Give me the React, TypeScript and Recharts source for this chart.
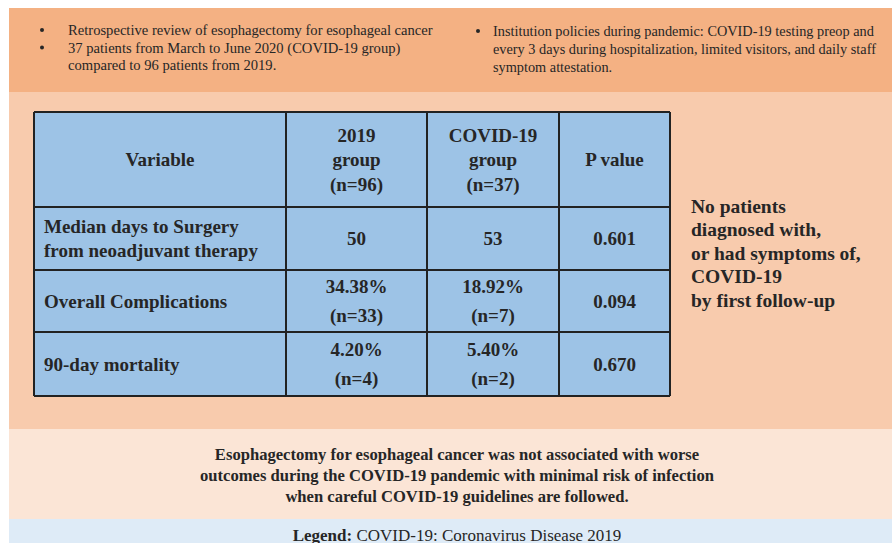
import { Surface, Layer, Rectangle, Text } from "recharts";

// summary bullets, one entry per bullet, one string per printed line
const studyBullets = [
  ["Retrospective review of esophagectomy for esophageal cancer"],
  ["37 patients from March to June 2020 (COVID-19 group)", "compared to 96 patients from 2019."],
];
const policyBullets = [
  [
    "Institution policies during pandemic: COVID-19 testing preop and",
    "every 3 days during hospitalization, limited visitors, and daily staff",
    "symptom attestation.",
  ],
];

const headers = [["Variable"], ["2019", "group", "(n=96)"], ["COVID-19", "group", "(n=37)"], ["P value"]];
const variables = [["Median days to Surgery", "from neoadjuvant therapy"], ["Overall Complications"], ["90-day mortality"]];
const group2019 = [["50"], ["34.38%", "(n=33)"], ["4.20%", "(n=4)"]];
const groupCovid = [["53"], ["18.92%", "(n=7)"], ["5.40%", "(n=2)"]];
const pValues = [["0.601"], ["0.094"], ["0.670"]];

const sideNote = ["No patients", "diagnosed with,", "or had symptoms of,", "COVID-19", "by first follow-up"];
const conclusion = [
  "Esophagectomy for esophageal cancer was not associated with worse",
  "outcomes during the COVID-19 pandemic with minimal risk of infection",
  "when careful COVID-19 guidelines are followed.",
];
const legendLabel = "Legend:";
const legendText = " COVID-19: Coronavirus Disease 2019";

const W = 892;
const H = 543;
const FONT = "'Liberation Serif', 'DejaVu Serif', serif";
const INK = "#262626";

const colX = [34, 286, 427, 559, 670];
const rowY = [112, 207, 270, 332, 396];

function Lines({ lines, x, cy, gap, anchor = "middle", size = 19, bold = true }: any) {
  const top = cy - ((lines.length - 1) * gap) / 2;
  return (
    <Layer>
      {lines.map((t: string, i: number) => (
        <Text
          key={i}
          x={x}
          y={top + i * gap}
          textAnchor={anchor}
          verticalAnchor="middle"
          fontFamily={FONT}
          fontSize={size}
          fontWeight={bold ? 700 : 400}
          fill={INK}
        >
          {t}
        </Text>
      ))}
    </Layer>
  );
}

function Bullets({ items, bx, tx, y0, gap, size }: any) {
  let line = 0;
  return (
    <Layer>
      {items.map((lines: string[], i: number) => {
        const start = line;
        line += lines.length;
        return (
          <Layer key={i}>
            <circle cx={bx} cy={y0 + start * gap} r={2} fill={INK} />
            {lines.map((t, j) => (
              <Text key={j} x={tx} y={y0 + (start + j) * gap} verticalAnchor="middle" fontFamily={FONT} fontSize={size} fill={INK}>
                {t}
              </Text>
            ))}
          </Layer>
        );
      })}
    </Layer>
  );
}

export default function App() {
  const columns = [variables, group2019, groupCovid, pValues];
  return (
    <div style={{ position: "absolute", left: 0, top: 0, width: W, height: H, background: "#fff" }}>
      <Surface width={W} height={H} viewBox={{ x: 0, y: 0, width: W, height: H }}>
        <Rectangle x={9} y={8} width={W - 9} height={84} fill="#f4b183" />
        <Rectangle x={9} y={92} width={W - 9} height={337} fill="#f8cbad" />
        <Rectangle x={9} y={429} width={W - 9} height={90} fill="#fbe5d6" />
        <Rectangle x={9} y={519} width={W - 9} height={H - 519} fill="#deebf7" />

        <Bullets items={studyBullets} bx={42} tx={68} y0={30} gap={17.5} size={14.6} />
        <Bullets items={policyBullets} bx={478} tx={493} y0={31} gap={18} size={14.3} />

        <Rectangle x={colX[0]} y={rowY[0]} width={colX[4] - colX[0]} height={rowY[4] - rowY[0]} fill="#9dc3e6" />
        {colX.map((x, i) => (
          <line key={"c" + i} x1={x} x2={x} y1={rowY[0]} y2={rowY[4]} stroke="#222" strokeWidth={2} />
        ))}
        {rowY.map((y, i) => (
          <line key={"r" + i} x1={colX[0]} x2={colX[4]} y1={y} y2={y} stroke="#222" strokeWidth={2} />
        ))}

        {headers.map((h, c) => (
          <Lines key={"h" + c} lines={h} x={(colX[c] + colX[c + 1]) / 2} cy={(rowY[0] + rowY[1]) / 2} gap={24.5} />
        ))}
        {columns.map((col, c) =>
          col.map((cell, r) =>
            c === 0 ? (
              <Lines key={c + "-" + r} lines={cell} x={colX[0] + 10} cy={(rowY[r + 1] + rowY[r + 2]) / 2} gap={24} anchor="start" />
            ) : (
              <Lines key={c + "-" + r} lines={cell} x={(colX[c] + colX[c + 1]) / 2} cy={(rowY[r + 1] + rowY[r + 2]) / 2} gap={28.5} />
            )
          )
        )}

        <Lines lines={sideNote} x={691} cy={253} gap={23.5} anchor="start" size={19.5} />
        <Lines lines={conclusion} x={457} cy={475} gap={21} size={16.6} />

        <text x={457} y={535} textAnchor="middle" dominantBaseline="central" fontFamily={FONT} fontSize={17} fill={INK}>
          <tspan fontWeight={700}>{legendLabel}</tspan>
          <tspan>{legendText}</tspan>
        </text>
      </Surface>
    </div>
  );
}
